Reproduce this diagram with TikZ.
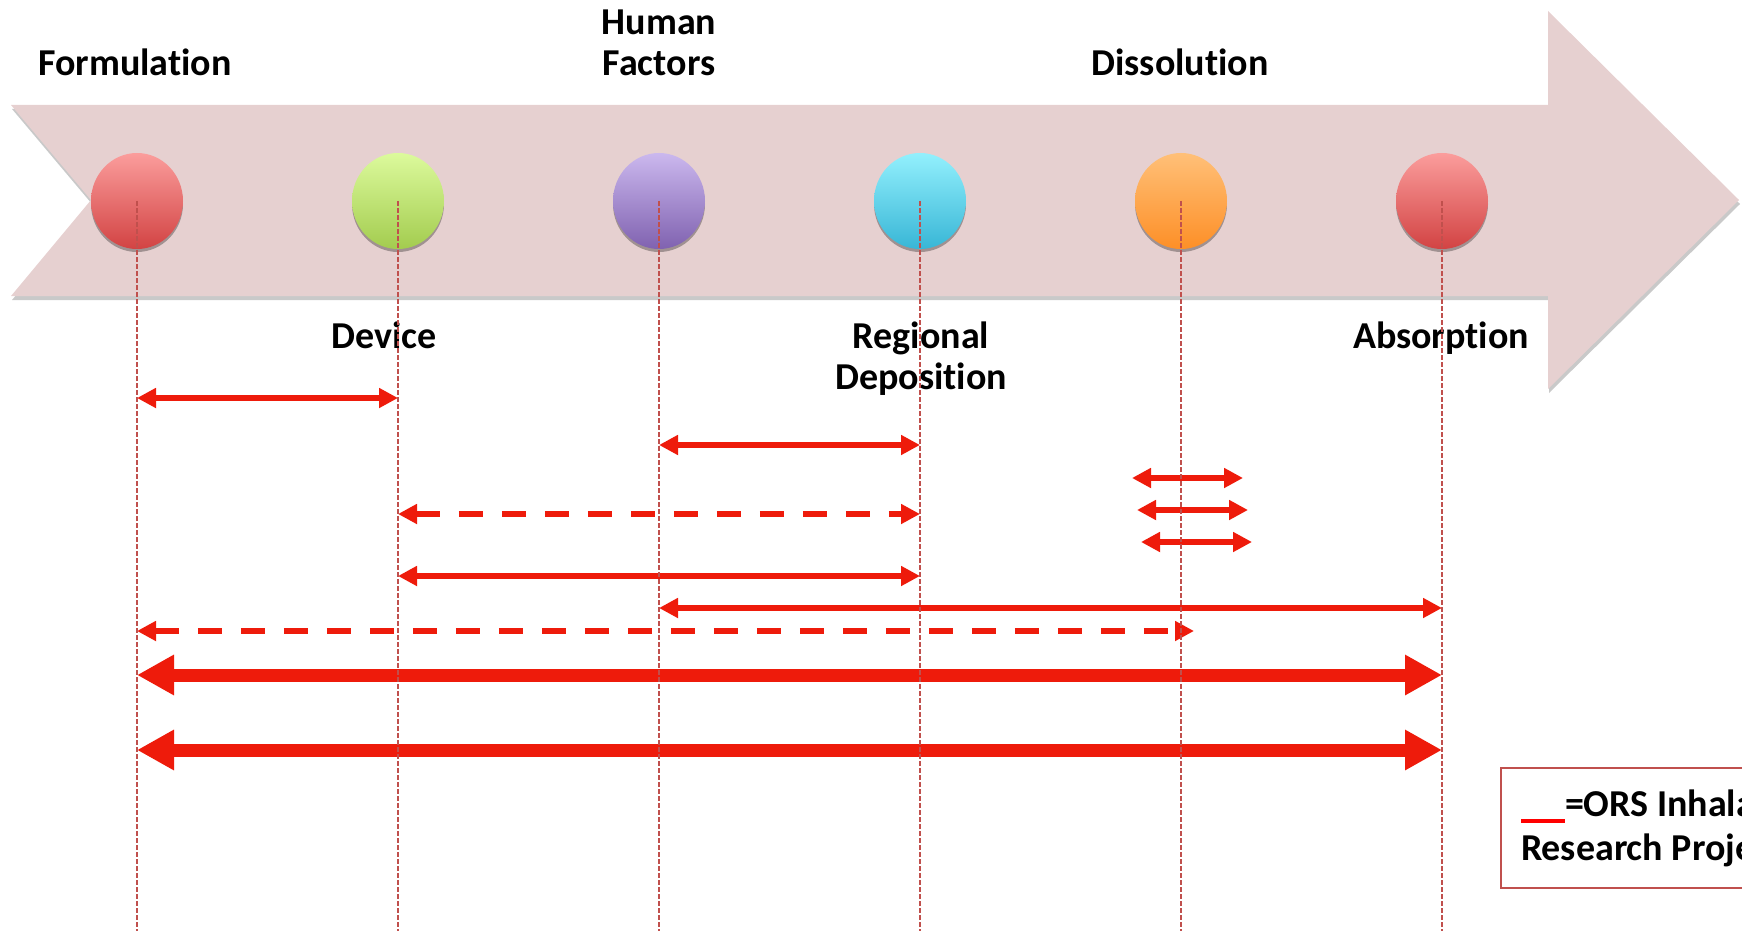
\documentclass[tikz,border=0pt]{standalone}
\usepackage{fontspec}
\setmainfont[Ligatures=NoCommon]{Carlito}
\usetikzlibrary{arrows.meta, shapes.geometric, shadows, calc}

\definecolor{bandpink}{HTML}{E6D0D0}
\definecolor{guidered}{HTML}{C0504D}
\definecolor{orsred}{HTML}{EE1B0B}
\definecolor{redtop}{HTML}{FB9D9C}
\definecolor{redbot}{HTML}{D24343}
\definecolor{greentop}{HTML}{DCFA9C}
\definecolor{greenbot}{HTML}{A3CC4F}
\definecolor{purpletop}{HTML}{CBB8EE}
\definecolor{purplebot}{HTML}{8062B0}
\definecolor{cyantop}{HTML}{93F0FD}
\definecolor{cyanbot}{HTML}{38B6D6}
\definecolor{orangetop}{HTML}{FFC078}
\definecolor{orangebot}{HTML}{FD8F27}

\begin{document}
\begin{tikzpicture}[x=0.5pt, y=-0.5pt,
      stage/.style={ellipse, minimum width=46pt, minimum height=48pt, inner sep=0pt,
        drop shadow={shadow xshift=0pt, shadow yshift=-1.5pt, opacity=0.3, fill=black}},
      stagename/.style={font=\fontsize{19}{20.5}\selectfont\bfseries, align=center, anchor=base},
      guide/.style={guidered, line width=0.8pt, dash pattern=on 2.5pt off 1pt},
      link/.style={orsred, line width=3pt, {Triangle[length=9.5pt, width=9.5pt]}-{Triangle[length=9.5pt, width=9.5pt]}},
      linkdash/.style={link, dash pattern=on 12pt off 9.5pt},
      bigspan/.style={orsred, line width=6.5pt, {Triangle[length=18.5pt, width=19pt]}-{Triangle[length=18.5pt, width=19pt]}},
      legend/.style={draw=guidered, line width=1pt, align=left, minimum height=60pt,
        inner xsep=10pt, font=\fontsize{19}{22}\selectfont\bfseries}]

      \useasboundingbox (0,0) rectangle (1742,931);
      \clip (0,0) rectangle (1742,931);

      % Timeline band
      \fill[bandpink, drop shadow={shadow xshift=0.5pt, shadow yshift=-2pt, opacity=0.3, fill=black!70}]
        (11,105) -- (1548,105) -- (1548,11) -- (1739,200) -- (1548,389) -- (1548,296)
        -- (11,296) -- (91,200) -- cycle;

      % Stages
      \foreach \n/\x/\ct/\cb in {1/137/redtop/redbot, 2/398/greentop/greenbot,
          3/659/purpletop/purplebot, 4/920/cyantop/cyanbot,
          5/1181/orangetop/orangebot, 6/1442/redtop/redbot} {
        \node[stage, top color=\ct, bottom color=\cb] (s\n) at (\x,201) {};
      }

      \node[stagename] (form) at (135,75.5) {Formulation};
      \node[stagename] (human) at (659,75.5) {Human\\Factors};
      \node[stagename] (diss) at (1180,75.5) {Dissolution};
      \node[stagename] (dev) at (384,348) {Device};
      \node[stagename] (depo) at (921,389) {Regional\\Deposition};
      \node[stagename] (absn) at (1441,348) {Absorption};

      % Rows
      \coordinate (r1) at (0,398);
      \coordinate (r2) at (0,445);
      \coordinate (r3) at (0,478);
      \coordinate (r4) at (0,510);
      \coordinate (r5) at (0,542);
      \coordinate (r6) at (0,514);
      \coordinate (r7) at (0,576);
      \coordinate (r8) at (0,608);
      \coordinate (r9) at (0,631);
      \coordinate (r10) at (0,675);
      \coordinate (r11) at (0,750);
      \coordinate (bottom) at (0,931);

      % Arrows
      \draw[link] (s1 |- r1) -- (s2 |- r1);
      \draw[link] (s3 |- r2) -- (s4 |- r2);
      \foreach \r/\a/\b in {r3/-49/62, r4/-44/67, r5/-40/71} {
        \draw[link] ($(s5 |- \r)+(\a,0)$) -- ($(s5 |- \r)+(\b,0)$);
      }
      \draw[linkdash] (s2 |- r6) -- (s4 |- r6);
      \draw[link] (s2 |- r7) -- (s4 |- r7);
      \draw[link] (s3 |- r8) -- (s6 |- r8);
      \draw[linkdash] (s1 |- r9) -- ($(s5 |- r9)+(13,0)$);
      \draw[bigspan] (s1 |- r10) -- (s6 |- r10);
      \draw[bigspan] (s1 |- r11) -- (s6 |- r11);

      % Guides
      \foreach \n in {1,...,6} {
        \draw[guide] (s\n.center) -- (s\n |- bottom);
      }

      % Legend
      \node[legend, anchor=north west] (key) at (1500,767)
        {\textcolor{red}{\rule[-3.5pt]{22pt}{2pt}}=ORS Inhalation\\Research Project};
    \end{tikzpicture}
\end{document}
